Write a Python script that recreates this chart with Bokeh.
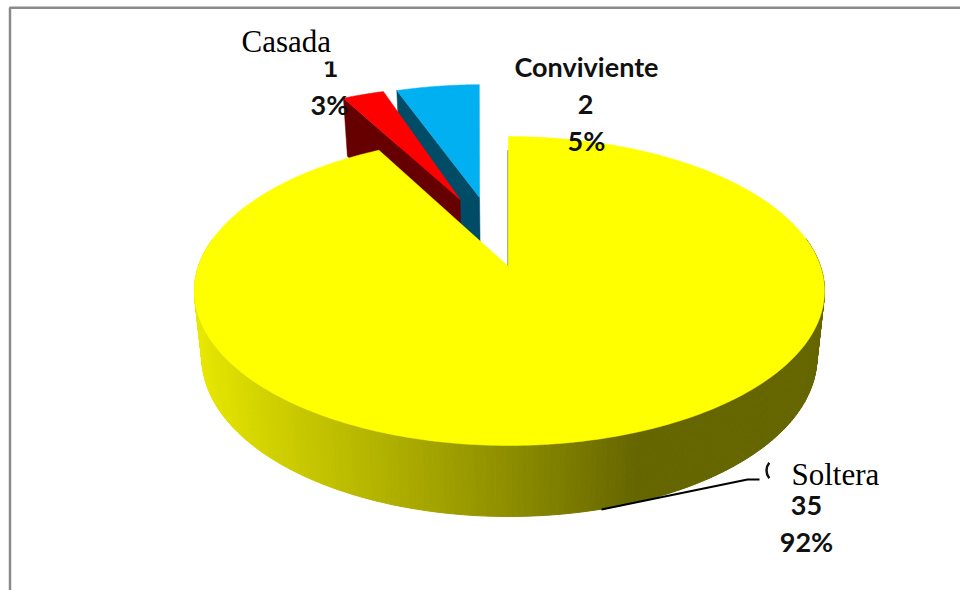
import numpy as np
from bokeh.core.properties import value
from bokeh.embed import file_html
from bokeh.models import Range1d
from bokeh.plotting import figure
from bokeh.resources import INLINE

# Marital status counts and their printed shares
categories = ["Soltera", "Casada", "Conviviente"]
counts = [35, 1, 2]
shares = ["92%", "3%", "5%"]
top_colors = ["#FFFF00", "#FF0000", "#00B0F0"]
cut_colors = ["#666600", "#660000", "#004C66"]

# Shading stops for the rim of the large slice (screen x -> level of the olive tone)
rim_x = [194, 271, 373, 515, 637, 825]
rim_level = [232, 208, 180, 140, 102, 102]

# Perspective pie: apex, scale and foreshortening of the top face
APEX_X, APEX_Y = 508.0, 266.0
SCALE_X, SCALE_Y, PERSP = 312.0, 150.6, 0.1586
# Wall: depth shrinks away from the viewer, lower plane slightly narrower
DEPTH_MID, DEPTH_SLOPE, WALL_SHRINK = 65.5, -5.5, 0.976
# The left half of the large slice is a touch narrower than the right half
LEFT_SQUEEZE = 0.994
# Per-slice explosion in disc units and small rotation in degrees
explode = [(0.0, 0.0), (-0.167, 0.4787), (-0.1, 0.4936)]
twist = [0.0, 0.0, -0.9]


def top(u, v):
    d = 1 + PERSP * np.asarray(v, dtype=float)
    return APEX_X + SCALE_X * np.asarray(u) / d, APEX_Y - SCALE_Y * np.asarray(v) / d


def bottom(u, v):
    x, y = top(u, v)
    return APEX_X + (x - APEX_X) * WALL_SHRINK, y + DEPTH_MID + DEPTH_SLOPE * np.asarray(v)


p = figure(width=960, height=590, output_backend="svg", toolbar_location=None,
           x_range=Range1d(0, 960), y_range=Range1d(590, 0), min_border=0,
           x_axis_location=None, y_axis_location=None, outline_line_color=None,
           background_fill_color="white", border_fill_color="white")
p.grid.visible = False

# Slice angles run clockwise from north
edges = np.concatenate([[0], np.cumsum(counts)]) / sum(counts) * 2 * np.pi


def arc_uv(i, n=240):
    th = np.linspace(edges[i], edges[i + 1], n) + np.radians(twist[i])
    return explode[i][0] + np.sin(th), explode[i][1] + np.cos(th)


# Exploded small slices: cut face first, then the top face
for i in (2, 1):
    u, v = arc_uv(i, 40)
    ax, ay = explode[i]
    x0, y0 = top(ax, ay)
    x1, y1 = bottom(ax, ay)
    xa, ya = top(u[0], v[0])
    xb, yb = bottom(u[0], v[0])
    p.patch([xa, x0, x1, xb], [ya, y0, y1, yb], fill_color=cut_colors[i], line_color=cut_colors[i], line_width=0.5)
    xt, yt = top(u, v)
    p.patch(np.r_[x0, xt], np.r_[y0, yt], fill_color=top_colors[i], line_color=top_colors[i], line_width=0.5)

# Shaded rim of the large slice, built from narrow strips
u, v = arc_uv(0, 400)
u = np.where(u < 0, u * LEFT_SQUEEZE, u)
xt, yt = top(u, v)
xb, yb = bottom(u, v)
facing = v < 0.2
xs, ys, cols = [], [], []
for k in np.nonzero(facing[:-1] & facing[1:])[0]:
    xs.append([xt[k], xt[k + 1], xb[k + 1], xb[k]])
    ys.append([yt[k], yt[k + 1], yb[k + 1], yb[k]])
    g = int(np.interp((xt[k] + xt[k + 1]) / 2, rim_x, rim_level))
    cols.append(f"#{g:02x}{g:02x}00")
p.patches(xs, ys, fill_color=cols, line_color=cols, line_width=1)

# Thin visible edge of the cut along north
xe, ye = top([0, 0], [0, 0.88])
p.line(xe - 0.5, ye, line_color=cut_colors[0], line_width=1)

# Top face of the large slice
p.patch(np.r_[APEX_X, xt], np.r_[APEX_Y, yt], fill_color=top_colors[0], line_color=top_colors[0], line_width=0.5)

# Chart frame, open at the bottom and right
p.line([9.5, 9.5, 960], [590, 7.2, 7.2], line_color="#8A8A8A", line_width=2.5)

# Leader line of the large slice
p.line([601, 747, 759], [509, 479, 479], line_color="black", line_width=2)

BOLD = dict(text_font=value("Lato"), text_font_style="bold", text_color="#111111",
            text_font_size="27px", text_align="center", text_baseline="middle")

# Count and share labels
p.text([330, 329], [67, 104], text=[str(counts[1]), shares[1]], **BOLD)
p.text([586, 585, 586], [66, 104, 140], text=[categories[2], str(counts[2]), shares[2]], **BOLD)
p.text([806, 806], [505, 541], text=[str(counts[0]), shares[0]], **BOLD)

# Remaining stroke of a covered glyph beside the lower label
p.arc([778], [470], radius=12, start_angle=np.radians(140), end_angle=np.radians(220),
      line_color="#111111", line_width=2.5)

# White boxes carrying the serif category names
p.quad(left=[236], right=[336], top=[27], bottom=[61], fill_color="white", line_color=None)
p.quad(left=[790], right=[884], top=[460], bottom=[484], fill_color="white", line_color=None)
SERIF = dict(text_font=value("Liberation Serif"), text_color="black", text_font_size="31px",
             text_align="left", text_baseline="middle")
p.text([241, 791], [41, 474], text=[categories[1], categories[0]], **SERIF)

open("out.html", "w").write(file_html(p, INLINE))
